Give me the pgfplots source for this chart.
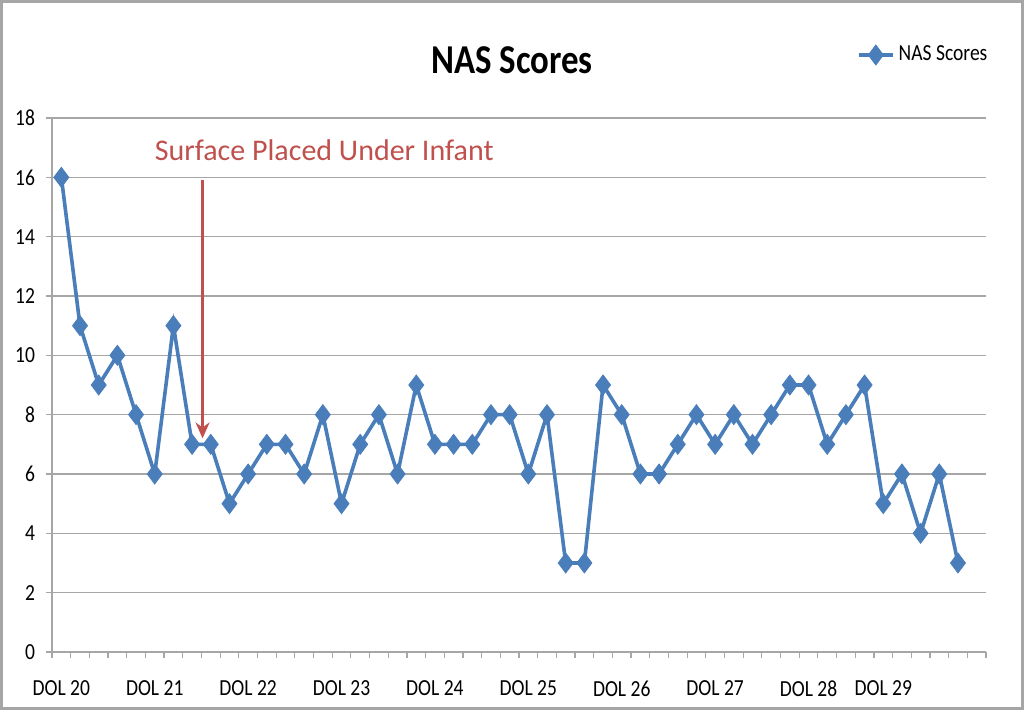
\documentclass[border=0pt]{standalone}
\usepackage{fontspec}
\setmainfont{Carlito}[FakeStretch=0.85]
\newfontfamily\annfont{Carlito}
\usepackage{pgfplots}
\pgfplotsset{compat=1.18}
\usetikzlibrary{arrows.meta}
\definecolor{nasblue}{HTML}{4A7EBB}
\definecolor{annred}{HTML}{C0504D}
\definecolor{gridgray}{HTML}{A6A6A6}

\begin{document}
\begin{tikzpicture}
\useasboundingbox (0,0) rectangle (512pt,355pt);
\draw[gray!70, line width=1.5pt] (0.75pt,0.75pt) rectangle (511.25pt,354.25pt);
\node[font=\fontsize{20.5}{22}\selectfont\bfseries] at (256pt,325pt) {NAS Scores};
\begin{axis}[
    at={(26pt,29pt)}, anchor=south west,
    scale only axis, width=467pt, height=267pt,
    xmin=-0.5, xmax=49.5, ymin=0, ymax=18,
    axis lines*=left,
    axis line style={gridgray, line width=0.8pt},
    tick align=outside,
    major tick length=3pt,
    tick style={gridgray, line width=0.6pt},
    xtick={-0.5,0.5,...,49.5},
    xticklabels={},
    extra x ticks={0,5,10,15,20,25,30,35,40,44},
    extra x tick labels={DOL 20,DOL 21,DOL 22,DOL 23,DOL 24,DOL 25,DOL 26,DOL 27,DOL 28,DOL 29},
    extra x tick style={major tick length=0pt, xticklabel style={yshift=-11pt}},
    ytick={0,2,...,18},
    yticklabel style={xshift=-2pt},
    /pgf/number format/assume math mode=true,
    ymajorgrids,
    grid style={gridgray, line width=0.8pt},
    ticklabel style={font=\fontsize{11.5}{13}\selectfont},
    legend style={at={(0.855,1.118)}, anchor=west, draw=none, fill=none,
        font=\fontsize{11.5}{13}\selectfont},
]
\addplot[nasblue, line width=1.8pt, mark=diamond*, mark size=5pt,
    mark options={fill=nasblue, draw=nasblue, line width=0.4pt}]
  coordinates {
    (0,16) (1,11) (2,9) (3,10) (4,8) (5,6) (6,11) (7,7) (8,7) (9,5)
    (10,6) (11,7) (12,7) (13,6) (14,8) (15,5) (16,7) (17,8) (18,6) (19,9)
    (20,7) (21,7) (22,7) (23,8) (24,8) (25,6) (26,8) (27,3) (28,3) (29,9)
    (30,8) (31,6) (32,6) (33,7) (34,8) (35,7) (36,8) (37,7) (38,8) (39,9)
    (40,9) (41,7) (42,8) (43,9) (44,5) (45,6) (46,4) (47,6) (48,3)
  };
\addlegendentry{NAS Scores}
\draw[annred, line width=1.2pt, -{Stealth[length=8pt, width=7pt]}]
  (axis cs:7.56,15.9) -- (axis cs:7.56,7.2);
\node[annred, font=\annfont\fontsize{15}{17}\selectfont] at (axis cs:14.07,16.92)
  {Surface Placed Under Infant};
\end{axis}
\end{tikzpicture}
\end{document}
